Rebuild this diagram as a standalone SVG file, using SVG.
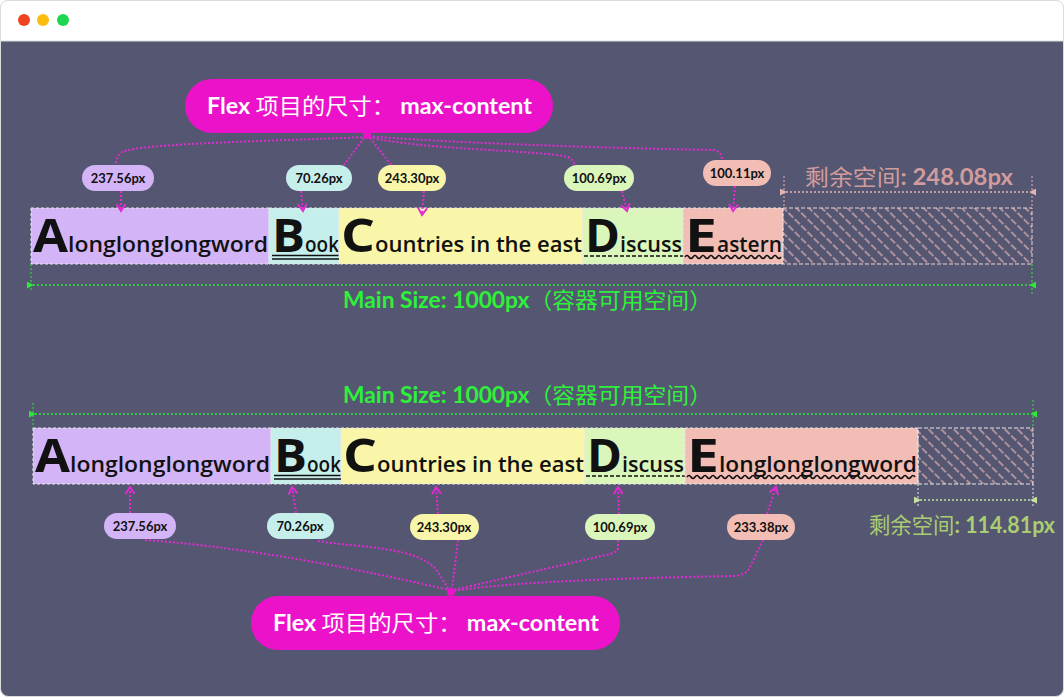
<svg xmlns="http://www.w3.org/2000/svg" width="1064" height="697" viewBox="0 0 1064 697">
<style>
.sm{font-family:"Open Sans","Lato","Liberation Sans",sans-serif;font-size:22px;font-weight:600;fill:#111}
.big{font-family:"Open Sans","Lato","Liberation Sans",sans-serif;font-size:46px;font-weight:700;fill:#111}
.lbl{font-family:"Lato","Liberation Sans",sans-serif;font-size:13px;font-weight:700;fill:#111;text-anchor:middle}
.call{font-family:"Lato","Liberation Sans","Noto Sans CJK SC",sans-serif;font-size:22px;fill:#fff}
.cjk{font-family:"Noto Sans CJK SC",sans-serif;font-weight:400}
.b{font-weight:700}
.conn{fill:none;stroke:#e42ad2;stroke-width:2;stroke-dasharray:2 2}
.arr{fill:none;stroke:#e42ad2;stroke-width:2;stroke-dasharray:2 2;marker-end:url(#chev)}
.cell{stroke:#e8e8e8;stroke-width:1;stroke-dasharray:3 2}
.green{fill:#2ef03a;font-family:"Lato","Liberation Sans",sans-serif;font-size:22px}
.gline{stroke:#2de83a;stroke-width:1.5;stroke-dasharray:2 2;fill:none}
.gtick{stroke:#2de83a;stroke-width:1;stroke-dasharray:2 2}
.pline{stroke:#e3b3b3;stroke-width:1.5;stroke-dasharray:2 2;fill:none}
.ptick{stroke:#e3b3b3;stroke-width:1;stroke-dasharray:2 2}
.lgline{stroke:#c5e0a0;stroke-width:1.5;stroke-dasharray:2 2;fill:none}
.lgtick{stroke:#e6e6e6;stroke-width:1;stroke-dasharray:2 2}
.ul{stroke:#111;stroke-width:1.6;fill:none}
</style>
<defs>
<marker id="chev" viewBox="0 0 12 12" refX="10" refY="6" markerWidth="12" markerHeight="12" markerUnits="userSpaceOnUse" orient="auto">
<path d="M3,1.5 L10,6 L3,10.5" fill="none" stroke="#e42ad2" stroke-width="2"/>
</marker>
<marker id="gtri" viewBox="0 0 8 8" refX="1" refY="4" markerWidth="7" markerHeight="7" markerUnits="userSpaceOnUse" orient="auto-start-reverse">
<path d="M8,0 L0,4 L8,8 Z" fill="#2de83a"/>
</marker>
<marker id="ptri" viewBox="0 0 8 8" refX="1" refY="4" markerWidth="7" markerHeight="7" markerUnits="userSpaceOnUse" orient="auto-start-reverse">
<path d="M8,0 L0,4 L8,8 Z" fill="#e3b3b3"/>
</marker>
<marker id="lgtri" viewBox="0 0 8 8" refX="1" refY="4" markerWidth="7" markerHeight="7" markerUnits="userSpaceOnUse" orient="auto-start-reverse">
<path d="M8,0 L0,4 L8,8 Z" fill="#c5e0a0"/>
</marker>
<pattern id="hatch" patternUnits="userSpaceOnUse" width="9" height="9" patternTransform="rotate(-45)">
<line x1="2" y1="0" x2="2" y2="9" stroke="#e7b8b8" stroke-width="1.2" stroke-dasharray="4 2"/>
</pattern>
</defs>

<!-- window -->
<rect x="0.5" y="0.5" width="1063" height="696" rx="8" fill="#555671" stroke="#dcdcdc"/>
<path d="M0.5,41 L0.5,8.5 Q0.5,0.5 8.5,0.5 L1055.5,0.5 Q1063.5,0.5 1063.5,8.5 L1063.5,41 Z" fill="#ffffff" stroke="#dcdcdc"/>
<circle cx="24" cy="20" r="6" fill="#ef441f"/>
<circle cx="43" cy="20" r="6" fill="#fbbd10"/>
<circle cx="63" cy="20" r="6" fill="#1fd650"/>

<!-- TOP ROW -->
<g id="top-row">
<g id="top-A">
<rect class="cell" x="31" y="208" width="238" height="56" fill="#d3b5f7"/>
<text class="big" x="33" y="252" textLength="35" lengthAdjust="spacingAndGlyphs">A</text>
<text class="sm" x="68" y="252" textLength="200" lengthAdjust="spacingAndGlyphs">longlonglongword</text>
</g>
<g id="top-B">
<rect class="cell" x="269" y="208" width="70" height="56" fill="#c6efec"/>
<text class="big" x="272" y="252" textLength="33" lengthAdjust="spacingAndGlyphs">B</text>
<text class="sm" x="305" y="252" textLength="34" lengthAdjust="spacingAndGlyphs">ook</text>
<path class="ul" d="M272,255.5 H339 M272,259 H339"/>
</g>
<g id="top-C">
<rect class="cell" x="339" y="208" width="244" height="56" fill="#f9f6a9"/>
<text class="big" x="341" y="252" textLength="34" lengthAdjust="spacingAndGlyphs">C</text>
<text class="sm" x="375" y="252" textLength="207" lengthAdjust="spacingAndGlyphs">ountries in the east</text>
</g>
<g id="top-D">
<rect class="cell" x="583" y="208" width="100" height="56" fill="#dbf6ba"/>
<text class="big" x="585" y="252" textLength="35" lengthAdjust="spacingAndGlyphs">D</text>
<text class="sm" x="620" y="252" textLength="62" lengthAdjust="spacingAndGlyphs">iscuss</text>
<path class="ul" d="M584,256 H683" stroke-dasharray="4 2"/>
</g>
<g id="top-E">
<rect class="cell" x="683" y="208" width="100" height="56" fill="#f1bdb4"/>
<text class="big" x="685" y="252" textLength="32" lengthAdjust="spacingAndGlyphs">E</text>
<text class="sm" x="717" y="252" textLength="65" lengthAdjust="spacingAndGlyphs">astern</text>
<path class="ul" d="M685,257 q2,-3 4,0 t4,0 t4,0 t4,0 t4,0 t4,0 t4,0 t4,0 t4,0 t4,0 t4,0 t4,0 t4,0 t4,0 t4,0 t4,0 t4,0 t4,0 t4,0 t4,0 t4,0 t4,0 t4,0 t4,0"/>
</g>
<g id="top-remaining">
<rect x="783" y="208" width="249" height="56" fill="url(#hatch)" stroke="#ead2d2" stroke-width="1" stroke-dasharray="4 2"/>
<line class="ptick" x1="784" y1="176" x2="784" y2="208"/>
<line class="ptick" x1="1032" y1="176" x2="1032" y2="208"/>
<line class="pline" x1="786" y1="192" x2="1030" y2="192" marker-start="url(#ptri)" marker-end="url(#ptri)"/>
<text x="805" y="185" textLength="208" lengthAdjust="spacingAndGlyphs" font-family="Lato,'Liberation Sans','Noto Sans CJK SC',sans-serif" font-size="22" fill="#d09c9c"><tspan class="cjk">剩余空间</tspan><tspan class="b">: 248.08px</tspan></text>
</g>
</g>

<!-- top main size -->
<g id="top-main-size">
<line class="gtick" x1="31" y1="264" x2="31" y2="292"/>
<line class="gtick" x1="1032" y1="264" x2="1032" y2="295"/>
<line class="gline" x1="33" y1="285" x2="1030" y2="285" marker-start="url(#gtri)" marker-end="url(#gtri)"/>
<text class="green" x="343" y="308" textLength="369" lengthAdjust="spacingAndGlyphs"><tspan class="b">Main Size: 1000px</tspan><tspan class="cjk">（容器可用空间）</tspan></text>
</g>

<!-- BOTTOM ROW -->
<g id="bottom-row">
<g id="bot-A">
<rect class="cell" x="33" y="428" width="238" height="56" fill="#d3b5f7"/>
<text class="big" x="35" y="472" textLength="35" lengthAdjust="spacingAndGlyphs">A</text>
<text class="sm" x="70" y="472" textLength="200" lengthAdjust="spacingAndGlyphs">longlonglongword</text>
</g>
<g id="bot-B">
<rect class="cell" x="271" y="428" width="70" height="56" fill="#c6efec"/>
<text class="big" x="274" y="472" textLength="33" lengthAdjust="spacingAndGlyphs">B</text>
<text class="sm" x="307" y="472" textLength="34" lengthAdjust="spacingAndGlyphs">ook</text>
<path class="ul" d="M274,475.5 H341 M274,479 H341"/>
</g>
<g id="bot-C">
<rect class="cell" x="341" y="428" width="244" height="56" fill="#f9f6a9"/>
<text class="big" x="343" y="472" textLength="34" lengthAdjust="spacingAndGlyphs">C</text>
<text class="sm" x="377" y="472" textLength="207" lengthAdjust="spacingAndGlyphs">ountries in the east</text>
</g>
<g id="bot-D">
<rect class="cell" x="585" y="428" width="100" height="56" fill="#dbf6ba"/>
<text class="big" x="587" y="472" textLength="35" lengthAdjust="spacingAndGlyphs">D</text>
<text class="sm" x="622" y="472" textLength="62" lengthAdjust="spacingAndGlyphs">iscuss</text>
<path class="ul" d="M586,476 H685" stroke-dasharray="4 2"/>
</g>
<g id="bot-E">
<rect class="cell" x="685" y="428" width="233" height="56" fill="#f1bdb4"/>
<text class="big" x="687" y="472" textLength="32" lengthAdjust="spacingAndGlyphs">E</text>
<text class="sm" x="719" y="472" textLength="198" lengthAdjust="spacingAndGlyphs">longlonglongword</text>
<path class="ul" d="M687,477 q2,-3 4,0 t4,0 t4,0 t4,0 t4,0 t4,0 t4,0 t4,0 t4,0 t4,0 t4,0 t4,0 t4,0 t4,0 t4,0 t4,0 t4,0 t4,0 t4,0 t4,0 t4,0 t4,0 t4,0 t4,0 t4,0 t4,0 t4,0 t4,0 t4,0 t4,0 t4,0 t4,0 t4,0 t4,0 t4,0 t4,0 t4,0 t4,0 t4,0 t4,0 t4,0 t4,0 t4,0 t4,0 t4,0 t4,0 t4,0 t4,0 t4,0 t4,0 t4,0 t4,0 t4,0 t4,0 t4,0 t4,0 t4,0"/>
</g>
<g id="bot-remaining">
<rect x="918" y="428" width="115" height="56" fill="url(#hatch)" stroke="#e6e6e6" stroke-width="1" stroke-dasharray="4 2"/>
<line class="lgtick" x1="918" y1="484" x2="918" y2="507"/>
<line class="lgtick" x1="1033" y1="484" x2="1033" y2="507"/>
<line class="lgline" x1="920" y1="500" x2="1031" y2="500" marker-start="url(#lgtri)" marker-end="url(#lgtri)"/>
<text x="869" y="533" textLength="186" lengthAdjust="spacingAndGlyphs" font-family="Lato,'Liberation Sans','Noto Sans CJK SC',sans-serif" font-size="22" fill="#a9cd70"><tspan class="cjk">剩余空间</tspan><tspan class="b">: 114.81px</tspan></text>
</g>
</g>

<!-- bottom main size -->
<g id="bottom-main-size">
<line class="gtick" x1="33" y1="403" x2="33" y2="428"/>
<line class="gtick" x1="1033" y1="400" x2="1033" y2="428"/>
<line class="gline" x1="35" y1="414" x2="1031" y2="414" marker-start="url(#gtri)" marker-end="url(#gtri)"/>
<text class="green" x="343" y="403" textLength="369" lengthAdjust="spacingAndGlyphs"><tspan class="b">Main Size: 1000px</tspan><tspan class="cjk">（容器可用空间）</tspan></text>
</g>

<!-- connectors -->
<g id="connectors">
<path class="conn" d="M366,137 C280,141 140,143 122,152 Q116,156 116,165"/>
<path class="conn" d="M364,138 L344,165"/>
<path class="conn" d="M370,138 L392,166"/>
<path class="conn" d="M369,137 C420,150 540,150 568,157 Q574,160 575,166"/>
<path class="conn" d="M369,136 C430,142 600,148 714,150 Q722,152 722,160"/>
<path class="arr" d="M121,191 L121,211"/>
<path class="arr" d="M301,191 L303,211"/>
<path class="arr" d="M424,191 L422,215"/>
<path class="arr" d="M622,191 L627,211"/>
<path class="arr" d="M735,186 L733,211"/>

<path class="arr" d="M130,513 L130,487"/>
<path class="arr" d="M296,513 L292,487"/>
<path class="arr" d="M438,514 L436,487"/>
<path class="arr" d="M619,514 L618,487"/>
<path class="arr" d="M767,514 L776,487"/>
<path class="conn" d="M145,540 C220,545 330,562 449,590"/>
<path class="conn" d="M318,541 C360,548 420,546 438,572 L449,590"/>
<path class="conn" d="M458,540 L452,589"/>
<path class="conn" d="M618,540 L618,548 Q617,553 606,555 L453,590"/>
<path class="conn" d="M763,540 L749,569 Q745,575 735,576 C620,578 510,582 453,591"/>
</g>

<!-- callouts -->
<g id="callout-top">
<rect x="185" y="79" width="368" height="54" rx="27" fill="#eb12c9"/>
<circle cx="367" cy="135" r="4" fill="#eb12c9"/>
<text class="call" x="207" y="114" textLength="325" lengthAdjust="spacingAndGlyphs"><tspan class="b">Flex</tspan><tspan class="cjk"> 项目的尺寸： </tspan><tspan class="b">max-content</tspan></text>
</g>
<g id="callout-bottom">
<rect x="251" y="596" width="369" height="54" rx="27" fill="#eb12c9"/>
<circle cx="451" cy="592" r="4" fill="#eb12c9"/>
<text class="call" x="273" y="631" textLength="326" lengthAdjust="spacingAndGlyphs"><tspan class="b">Flex</tspan><tspan class="cjk"> 项目的尺寸： </tspan><tspan class="b">max-content</tspan></text>
</g>

<!-- labels -->
<g id="label-top-A"><rect x="82" y="165" width="72" height="26" rx="13" fill="#d3b5f7"/><text class="lbl" x="118" y="182.5">237.56px</text></g>
<g id="label-top-B"><rect x="286" y="165" width="66" height="26" rx="13" fill="#c6efec"/><text class="lbl" x="319" y="182.5">70.26px</text></g>
<g id="label-top-C"><rect x="378" y="165" width="68" height="26" rx="13" fill="#f9f6a9"/><text class="lbl" x="412" y="182.5">243.30px</text></g>
<g id="label-top-D"><rect x="564" y="165" width="70" height="26" rx="13" fill="#dbf6ba"/><text class="lbl" x="599" y="182.5">100.69px</text></g>
<g id="label-top-E"><rect x="703" y="160" width="68" height="26" rx="13" fill="#f1bdb4"/><text class="lbl" x="737" y="177.5">100.11px</text></g>

<g id="label-bot-A"><rect x="104" y="513" width="72" height="26" rx="13" fill="#d3b5f7"/><text class="lbl" x="140" y="530.5">237.56px</text></g>
<g id="label-bot-B"><rect x="267" y="513" width="67" height="26" rx="13" fill="#c6efec"/><text class="lbl" x="300" y="530.5">70.26px</text></g>
<g id="label-bot-C"><rect x="410" y="514" width="69" height="26" rx="13" fill="#f9f6a9"/><text class="lbl" x="444" y="531.5">243.30px</text></g>
<g id="label-bot-D"><rect x="585" y="514" width="70" height="26" rx="13" fill="#dbf6ba"/><text class="lbl" x="620" y="531.5">100.69px</text></g>
<g id="label-bot-E"><rect x="727" y="514" width="68" height="26" rx="13" fill="#f1bdb4"/><text class="lbl" x="761" y="531.5">233.38px</text></g>
</svg>
